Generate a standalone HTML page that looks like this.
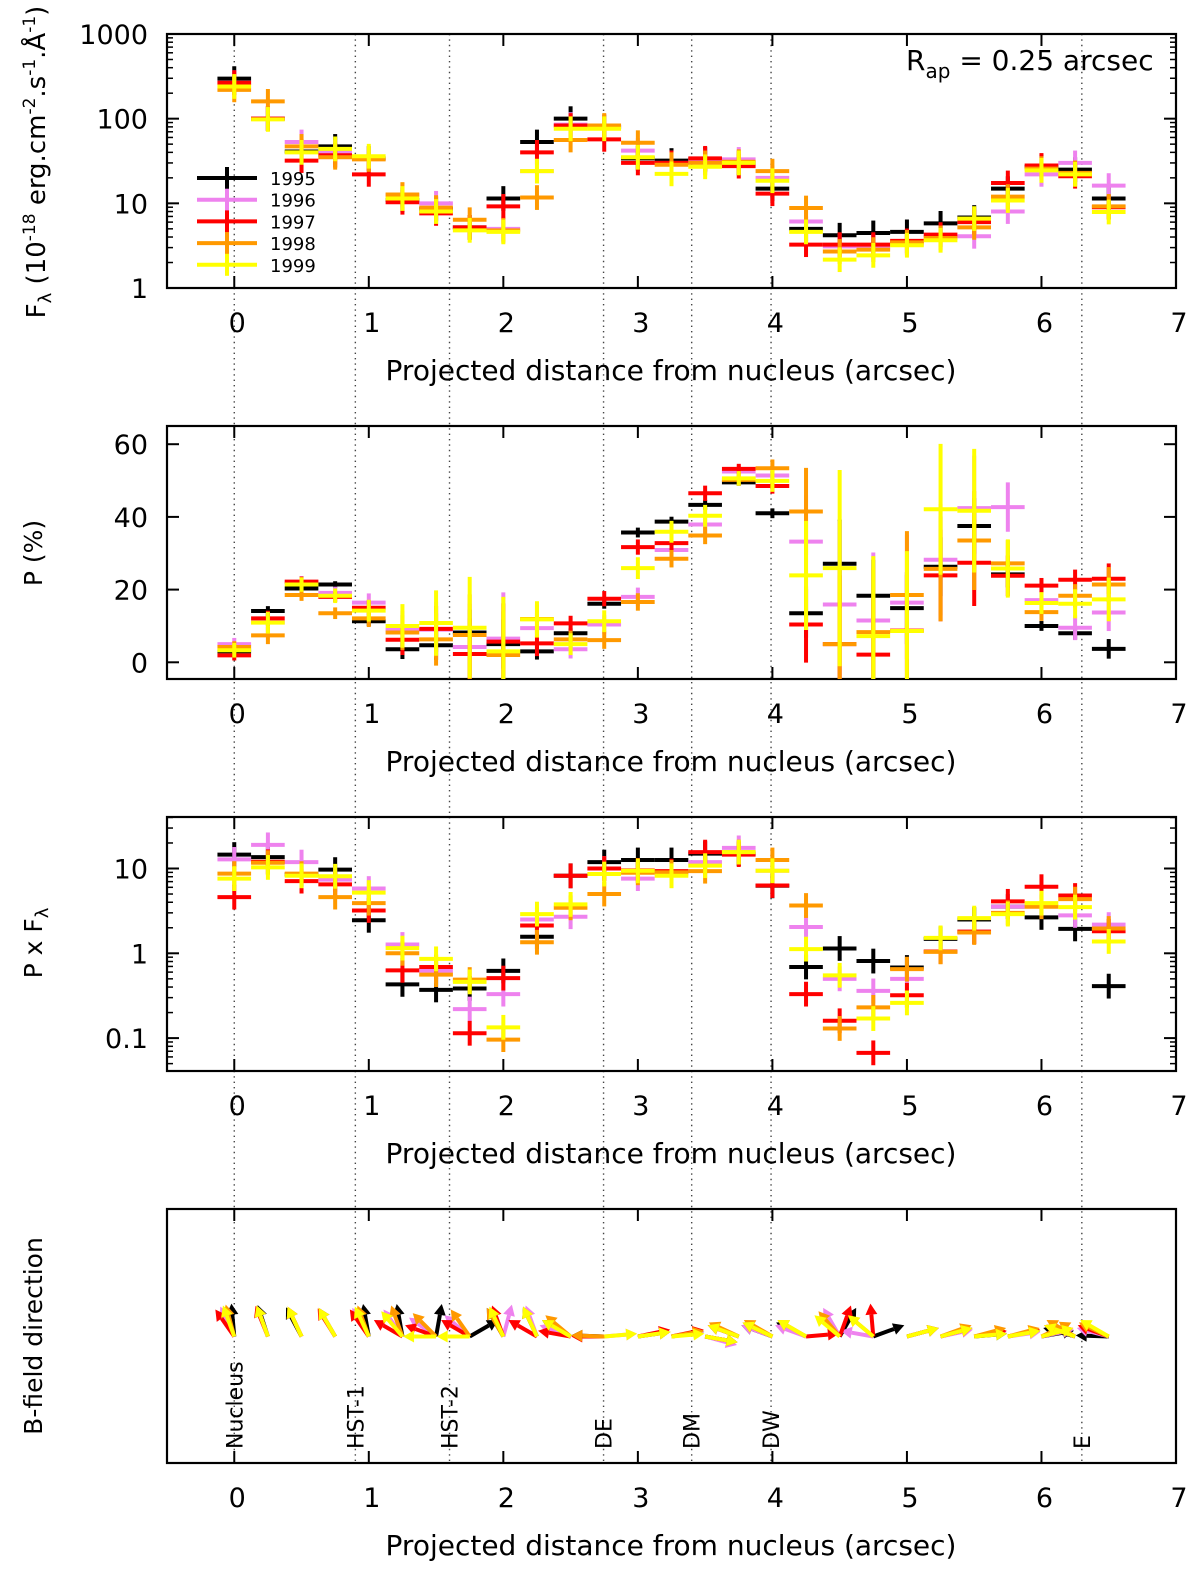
<!DOCTYPE html>
<html><head><meta charset="utf-8"><style>
html,body{margin:0;padding:0;background:#fff}
svg{display:block;font-family:"DejaVu Sans","Liberation Sans",sans-serif}
</style></head><body>
<svg id="fig" width="1200" height="1570" viewBox="0 0 1200 1570" xmlns="http://www.w3.org/2000/svg"></svg>
<script>
const xs = [0,0.25,0.5,0.75,1,1.25,1.5,1.75,2,2.25,2.5,2.75,3,3.25,3.5,3.75,4,4.25,4.5,4.75,5,5.25,5.5,5.75,6,6.25,6.5];
const years = ["1995","1996","1997","1998","1999"];
const colors = ["#000000","#ee82ee","#ff0000","#ff9900","#ffff00"];

const F1995 = [297,100,41,47,34,11,8.6,5.2,11.4,53,100,80,34,32,33,30,14.9,5.0,4.2,4.47,4.6,5.8,6.8,14.9,27,25,11.4];
const F1996 = [266,100,53,40,34,12.5,10,5.2,5.0,24,85,80,42,30,31.7,33,20,6.1,3.1,3.1,3.3,4.0,4.08,8.0,22,30,16.2];
const F1997 = [266,100,32,37,22,10.3,7.6,5.2,9.2,40,83,57,30,30,34,27.5,13,3.25,3.25,3.25,3.6,4.27,6,17.4,28,20.9,9];
const F1998 = [219,160,47,35,33,12.7,8.9,6.4,4.8,11.7,56,83,52,28.6,30,31,24,8.8,2.7,2.84,3.46,3.9,5.2,12,25.7,22.9,9.2];
const F1999 = [240,98,40,44,36,11.4,8.0,4.8,4.6,24,76,76,35,22.3,27,30,18.5,4.6,2.16,2.43,3.2,3.66,6.6,10.8,24.5,22,7.9];

const P1995 = [3,14.1,20.3,21.4,11.3,3.6,4.7,8.2,5,3.0,8.0,16.1,35.7,38.7,43.3,49.5,41.0,13.5,27.1,18.3,14.9,26.3,37.5,24.2,10.0,8.0,3.7];
const P1996 = [5.0,11,22,19.1,16.4,9,9,4.2,6.5,9.4,3.6,10.4,18,30.9,37.9,52.5,51.4,33.2,15.9,11.5,16.4,28.2,42.4,42.7,17.1,9.5,13.7];
const P1997 = [1.9,12.1,22.2,18,15,6.2,9.2,2.3,5.7,5.2,10.7,17.5,31.7,32.8,46.5,53.2,48.5,10.4,5,2.1,8.7,23.9,27.4,23.8,21.1,22.7,23.0];
const P1998 = [4.2,7.4,18.5,13.5,12.1,8.2,6.3,7.5,2.0,11.9,6.3,6.1,16.6,28.5,34.9,50.2,53.4,41.5,5.0,8.3,18.5,25.7,33.5,27.2,13.8,18.3,21.4];
const P1999 = [3.3,10.9,21.4,18.3,14.2,10,10.8,9.5,3.0,11.8,5.0,11.3,25.9,35.9,40.3,50.6,49.9,23.9,25.9,7.2,8.6,42.1,41.7,25.8,16.3,16.1,17.3];
const Perr = [2,3,2,2,3,6,9,14,15,5,3,3,3,3,3,2,3,15,27,22,22,18,17,8,3,4,6];

const PF1995 = [14.6,13.6,8.5,9.7,2.45,0.43,0.37,0.385,0.62,1.57,8.2,11.9,12.6,12.6,15,15,6.25,0.69,1.14,0.81,0.68,1.48,2.5,3.55,2.65,1.94,0.41];
const PF1996 = [12.8,19,11.9,7.4,5.8,1.27,0.62,0.22,0.33,2.5,2.7,10,7.6,8.7,11.9,17.5,9.4,2.04,0.5,0.36,0.5,1.05,1.8,3.55,3.6,2.8,2.18];
const PF1997 = [4.6,12,7.1,6.5,3.2,0.63,0.69,0.114,0.51,2.13,8.2,10,9.5,9.3,15.6,14.6,6.3,0.33,0.16,0.067,0.32,1.05,1.8,4.1,6.1,4.8,1.82];
const PF1998 = [8.7,11.7,8.7,4.6,3.9,1.0,0.56,0.49,0.096,1.35,3.44,5.0,8.9,9.0,9.3,15.6,12.6,3.66,0.13,0.23,0.65,1.04,1.76,3.0,3.54,4.35,1.96];
const PF1999 = [7.6,10.3,8.2,8.1,5.2,1.15,0.86,0.46,0.134,2.9,3.77,8.6,9.4,8.2,10.8,15.6,9.4,1.12,0.55,0.17,0.26,1.52,2.6,2.9,3.9,3.5,1.38];

const A1995 = [95,108,118,120,100,100,80,30,120,115,150,178,8,8,-10,160,160,155,60,20,15,15,5,10,10,165,178];
const A1996 = [115,110,115,120,120,125,145,140,75,110,160,5,8,8,-15,160,160,160,120,170,15,12,8,8,12,160,165];
const A1997 = [125,112,115,122,125,150,160,150,110,150,170,180,12,12,-10,160,155,5,70,95,15,15,10,12,15,160,160];
const A1998 = [105,110,115,120,110,110,135,125,120,115,140,178,8,10,-10,155,150,150,130,140,15,20,15,15,25,150,155];
const A1999 = [110,110,115,120,115,130,180,180,115,115,150,5,8,5,-10,160,155,150,140,140,15,15,5,10,15,160,150];

const xTicks = [0,1,2,3,4,5,6,7];
const featPos = [0,0.9,1.6,2.745,3.4,3.99,6.3];
const featNames = ["Nucleus","HST-1","HST-2","DE","DM","DW","E"];

const NS = "http://www.w3.org/2000/svg";
const svg = document.getElementById('fig');
function el(tag, attrs, parent){
  const e = document.createElementNS(NS, tag);
  for (const k in attrs) e.setAttribute(k, attrs[k]);
  (parent||svg).appendChild(e);
  return e;
}
const X0 = 167, X1 = 1176;
function xS(v){ return X0 + (v + 0.5) / 7.5 * (X1 - X0); }

const panels = [
  {top:34, bot:288},
  {top:426, bot:679},
  {top:817, bot:1071},
  {top:1209, bot:1463}
];
function y1(v){ return 288 - Math.log10(v) / 3 * 254; }
function y2(v){ return 662.3 - v * 3.635; }
function y3(v){ return 953.3 - Math.log10(v) * 84.8; }

featPos.forEach((f,i)=>{
  const l = el('line',{x1:xS(f),x2:xS(f),y1:34,y2:1463,stroke:'#444','stroke-width':1.4,'stroke-dasharray':'1.4,4'});
  
  
});

function frame(p, idx){
  const g = el('g',{});
  
  
  el('rect',{x:X0,y:p.top,width:X1-X0,height:p.bot-p.top,fill:'none',stroke:'#000','stroke-width':2.2},g);
  xTicks.forEach(t=>{
    const x = xS(t);
    el('line',{x1:x,x2:x,y1:p.bot,y2:p.bot-12,stroke:'#000','stroke-width':2},g);
    el('line',{x1:x,x2:x,y1:p.top,y2:p.top+12,stroke:'#000','stroke-width':2},g);
    const tx = el('text',{x:x+3,y:p.bot+44,'font-size':27,'text-anchor':'middle',fill:'#000'},g);
    tx.textContent = t;
    
    
  });
  const tt = el('text',{x:671,y:p.bot+92,'font-size':28,'text-anchor':'middle',fill:'#000'},g);
  tt.textContent = 'Projected distance from nucleus (arcsec)';
  
  
  return g;
}
panels.forEach((p,i)=>frame(p,i));

function yTick(g, y, label, major){
  const len = major ? 12 : 6;
  el('line',{x1:X0,x2:X0+len,y1:y,y2:y,stroke:'#000','stroke-width':major?2:1.5},g);
  el('line',{x1:X1,x2:X1-len,y1:y,y2:y,stroke:'#000','stroke-width':major?2:1.5},g);
  if (label !== null){
    const t = el('text',{x:148,y:y+10,'font-size':27,'text-anchor':'end',fill:'#000'},g);
    t.textContent = label;
    
    
  }
}
const g1 = el('g',{});
for (let d=0; d<3; d++){ for (let m=2;m<10;m++) yTick(g1, y1(Math.pow(10,d)*m), null, false); }
[1,10,100,1000].forEach(v=>yTick(g1,y1(v),String(v),true));
const g2 = el('g',{});
[0,20,40,60].forEach(v=>yTick(g2,y2(v),String(v),true));
const g3 = el('g',{});
const lo3 = Math.pow(10,(953.3-1071)/84.8), hi3 = Math.pow(10,(953.3-817)/84.8);
for (let d=-2; d<2; d++){ for (let m=1;m<10;m++){ const v=Math.pow(10,d)*m; if (v>lo3 && v<hi3 && m>1) yTick(g3,y3(v),null,false);} }
[[0.1,'0.1'],[1,'1'],[10,'10']].forEach(a=>yTick(g3,y3(a[0]),a[1],true));

function yTitle(cx, cy, html, name, fs){
  const t = el('text',{transform:`translate(${cx},${cy}) rotate(-90)`,'font-size':fs,'text-anchor':'middle',fill:'#000'});
  t.innerHTML = html;
  
  
}
yTitle(45,162,'F<tspan font-size="18" dy="6">λ</tspan><tspan dy="-6"> (10</tspan><tspan font-size="17" dy="-10">-18</tspan><tspan dy="10"> erg.cm</tspan><tspan font-size="17" dy="-10">-2</tspan><tspan dy="10">.s</tspan><tspan font-size="17" dy="-10">-1</tspan><tspan dy="10">.Å</tspan><tspan font-size="17" dy="-10">-1</tspan><tspan dy="10">)</tspan>','y-axis-title-flux',26);
yTitle(42,553,'P (%)','y-axis-title-polarization',25);
yTitle(42,943,'P x F<tspan font-size="18" dy="6">λ</tspan>','y-axis-title-polarized-flux',25);
yTitle(42,1336,'B-field direction','y-axis-title-bfield',25);

const rap = el('text',{x:906,y:70,'font-size':28,fill:'#000'});
rap.innerHTML = 'R<tspan font-size="20" dy="8">ap</tspan><tspan dy="-8"> = 0.25 arcsec</tspan>';



const half = 0.125;
function cross(g, x, y, ylo, yhi, color){
  el('line',{x1:xS(x-half),x2:xS(x+half),y1:y,y2:y,stroke:color,'stroke-width':4},g);
  el('line',{x1:xS(x),x2:xS(x),y1:ylo,y2:yhi,stroke:color,'stroke-width':4},g);
}
const Fs = [F1995,F1996,F1997,F1998,F1999];
const Ps = [P1995,P1996,P1997,P1998,P1999];
const PFs = [PF1995,PF1996,PF1997,PF1998,PF1999];
const As = [A1995,A1996,A1997,A1998,A1999];
const pErrScale = [0.45,0.85,0.7,0.8,1.0];

const defs = el('defs',{});
panels.forEach((p,i)=>{
  const cp = el('clipPath',{id:'cp'+i},defs);
  el('rect',{x:X0,y:p.top,width:X1-X0,height:p.bot-p.top},cp);
});

years.forEach((yr,s)=>{
  const ga = el('g',{'clip-path':'url(#cp0)'});
  
  
  xs.forEach((x,i)=>{ const v=Fs[s][i]; cross(ga,x,y1(v),y1(v*1.4),y1(v/1.4),colors[s]); });

  const gb = el('g',{'clip-path':'url(#cp1)'});
  
  
  xs.forEach((x,i)=>{ const v=Ps[s][i]; const e=Perr[i]*pErrScale[s]; cross(gb,x,y2(v),y2(v-e),y2(v+e),colors[s]); });

  const gc = el('g',{'clip-path':'url(#cp2)'});
  
  
  xs.forEach((x,i)=>{ const v=PFs[s][i]; cross(gc,x,y3(v),y3(v*1.4),y3(v/1.4),colors[s]); });

  const gd = el('g',{});
  
  
  const L = 33, base = 1336.5;
  xs.forEach((x,i)=>{
    const a = As[s][i]*Math.PI/180;
    const x0 = xS(x), x1 = x0 + L*Math.cos(a), yy1 = base - L*Math.sin(a);
    const hx = x0 + (L-11)*Math.cos(a), hy = base - (L-11)*Math.sin(a);
    el('line',{x1:x0,y1:base,x2:hx,y2:hy,stroke:colors[s],'stroke-width':4},gd);
    const px = -Math.sin(a)*6, py = -Math.cos(a)*6;
    el('polygon',{points:`${x1},${yy1} ${hx+px},${hy+py} ${hx-px},${hy-py}`,fill:colors[s]},gd);
  });
});

featPos.forEach((f,i)=>{
  const t = el('text',{transform:`translate(${xS(f)+8},1449) rotate(-90)`,'font-size':22,fill:'#000'});
  t.textContent = featNames[i];
  
  
});

const lg = el('g',{});


years.forEach((yr,s)=>{
  const y = 178 + s*21.7;
  const e = el('g',{},lg);
  
  
  el('line',{x1:197,x2:257,y1:y,y2:y,stroke:colors[s],'stroke-width':4},e);
  el('line',{x1:227,x2:227,y1:y-11,y2:y+11,stroke:colors[s],'stroke-width':4},e);
  const t = el('text',{x:270,y:y+7,'font-size':18,fill:'#000'},e);
  t.textContent = yr;
});
</script>
</body></html>
